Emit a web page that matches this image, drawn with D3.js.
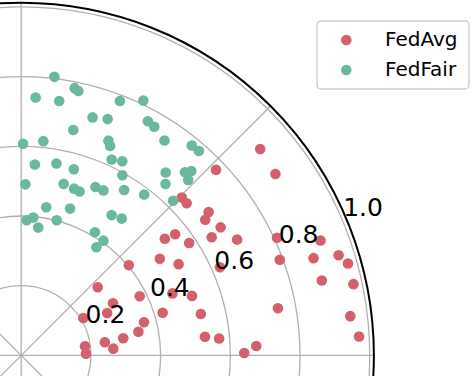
<!DOCTYPE html>
<html><head><meta charset="utf-8">
<script src="https://cdn.jsdelivr.net/npm/d3@7"></script>
<style>html,body{margin:0;padding:0;background:#fff;overflow:hidden}svg{display:block}</style>
</head><body><svg id="c" width="474" height="376"></svg>
<script>
// Data (theta in degrees, r in radial units)
const fedAvgTheta = [40.8,43.6,35.5,44.5,42.6,37.4,36.4,32.7,39.1,38.2,33.8,31.8,28.2,24.7,21.0,34.9,30.1,40.0,23.9,20.3,18.4,17.5,15.7,14.0,12.1,41.7,26.5,22.3,19.2,29.6,26.2,31.1,16.8,13.0,10.4,6.8,15.1,11.4,9.5,8.9,4.2,5.8,4.9,3.2,8.1,1.4,0.6,2.3];
const fedAvgR = [0.906,0.772,0.896,0.646,0.645,0.677,0.656,0.680,0.531,0.562,0.580,0.643,0.703,0.808,0.920,0.485,0.522,0.403,0.624,0.791,0.884,0.955,0.974,0.889,0.975,0.294,0.380,0.469,0.519,0.303,0.275,0.208,0.424,0.529,0.749,0.951,0.365,0.343,0.297,0.243,0.265,0.530,0.570,0.971,0.185,0.186,0.640,0.675];
const fedFairTheta = [83.2,78.7,77.8,86.8,81.5,68.8,64.4,73.3,69.9,61.6,59.8,77.0,84.1,67.9,67.0,56.3,89.5,50.9,49.0,85.9,79.6,74.2,65.2,62.5,51.7,48.2,47.3,46.4,60.7,88.6,76.1,72.4,70.4,66.2,63.5,58.1,49.9,52.6,45.5,80.4,71.6,87.7,85.0,82.4,75.3,57.2,53.7,59.1,54.4,55.2];
const fedFairR = [0.805,0.782,0.776,0.741,0.738,0.783,0.811,0.713,0.722,0.764,0.759,0.664,0.618,0.665,0.653,0.741,0.607,0.776,0.777,0.549,0.560,0.555,0.619,0.628,0.669,0.705,0.720,0.695,0.593,0.491,0.507,0.502,0.499,0.528,0.529,0.559,0.643,0.581,0.622,0.431,0.444,0.388,0.397,0.370,0.401,0.479,0.487,0.412,0.405,0.378];
const rTicks = [0.2,0.4,0.6,0.8,1.0];
const rTickLabels = ["0.2","0.4","0.6","0.8","1.0"];
const thetaTicks = [0,45,90,135,180,225,270,315];
const seriesNames = ["FedAvg","FedFair"];
const seriesColors = ["#d45f6d","#6ab99e"];

const cx = 21.2, cy = 355.4, rMax = 1.012;
const rScale = d3.scaleLinear().domain([0, 1]).range([0, 348.5]);
// matplotlib angle (deg, ccw from east) -> d3 radial angle (rad, cw from north)
const aScale = d3.scaleLinear().domain([0, 360]).range([Math.PI/2, Math.PI/2 - 2*Math.PI]);

const svg = d3.select("#c");
const g = svg.append("g").attr("transform", `translate(${cx},${cy})`);

// radial grid circles
g.selectAll("circle.grid").data(rTicks).join("circle")
  .attr("class","grid").attr("r", d => rScale(d))
  .attr("fill","none").attr("stroke","#b0b0b0").attr("stroke-width",1.3);
// angular grid lines
g.selectAll("line.grid").data(thetaTicks).join("line")
  .attr("x1",0).attr("y1",0)
  .attr("x2", d => d3.pointRadial(aScale(d), rScale(rMax))[0])
  .attr("y2", d => d3.pointRadial(aScale(d), rScale(rMax))[1])
  .attr("stroke","#b0b0b0").attr("stroke-width",1.3);

// points
const series = [
  {name: seriesNames[0], color: seriesColors[0], theta: fedAvgTheta, r: fedAvgR},
  {name: seriesNames[1], color: seriesColors[1], theta: fedFairTheta, r: fedFairR}
];
series.forEach(s => {
  const pts = s.theta.map((t, i) => d3.pointRadial(aScale(t), rScale(s.r[i])));
  g.append("g").selectAll("circle").data(pts).join("circle")
    .attr("cx", d => d[0]).attr("cy", d => d[1]).attr("r", 5.3)
    .attr("fill", s.color);
});

// outer spine
g.append("circle").attr("r", rScale(rMax)).attr("fill","none")
  .attr("stroke","#000").attr("stroke-width",2);

// radial tick labels at 22.5 deg
const fs = 25;
g.selectAll("text.rl").data(rTicks).join("text")
  .attr("class","rl")
  .attr("x", d => d3.pointRadial(aScale(22.5), rScale(d))[0])
  .attr("y", d => d3.pointRadial(aScale(22.5), rScale(d))[1] - 0.236*fs)
  .attr("font-family","DejaVu Sans").attr("font-size", fs).attr("fill","#000")
  .text((d,i) => rTickLabels[i]);

// legend
const lg = svg.append("g");
lg.append("rect").attr("x",317).attr("y",21).attr("width",152).attr("height",68)
  .attr("rx",4).attr("fill","#fff").attr("fill-opacity",0.8)
  .attr("stroke","#cccccc").attr("stroke-width",1.3);
series.forEach((s, i) => {
  lg.append("circle").attr("cx",346.3).attr("cy",40 + i*30).attr("r",5.3).attr("fill",s.color);
  lg.append("text").attr("x",385).attr("y",46 + i*30)
    .attr("font-family","DejaVu Sans").attr("font-size",20).attr("fill","#000")
    .text(s.name);
});
</script></body></html>
